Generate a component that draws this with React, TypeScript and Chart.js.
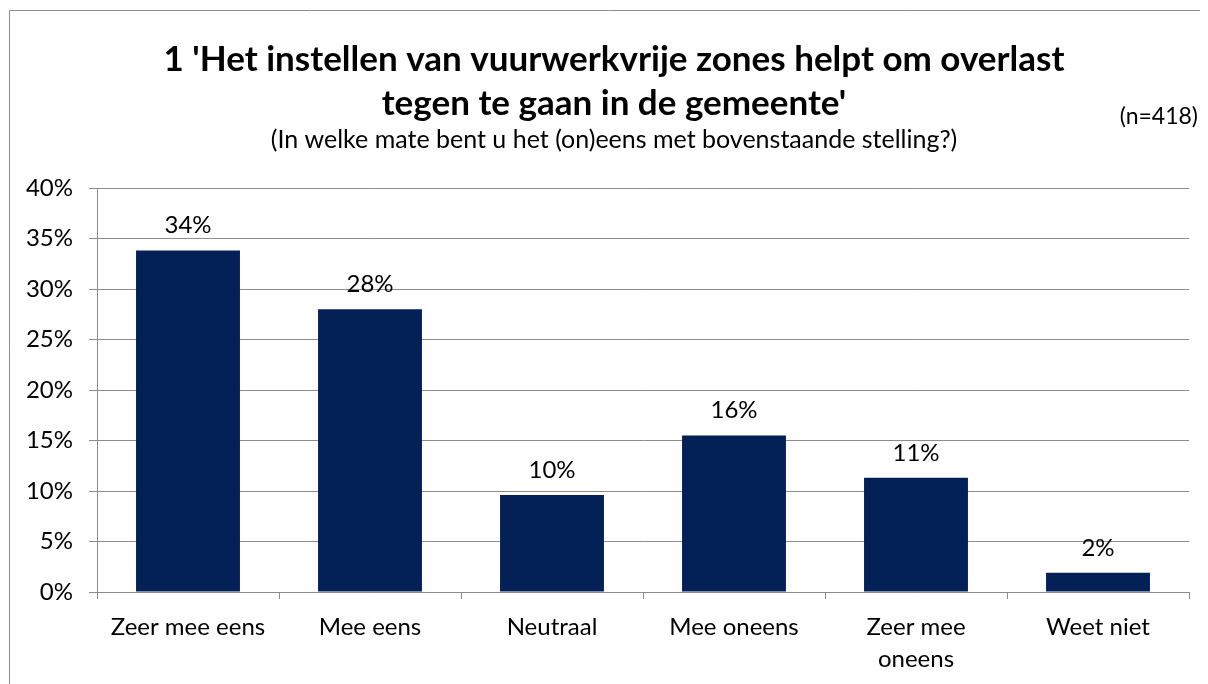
import React, { useEffect, useRef } from "react";
import { Chart, registerables } from "chart.js";

Chart.register(...registerables);

const categories: (string | string[])[] = [
  "Zeer mee eens",
  "Mee eens",
  "Neutraal",
  "Mee oneens",
  ["Zeer mee", "oneens"],
  "Weet niet",
];
const values: number[] = [33.8, 28.0, 9.6, 15.5, 11.3, 1.9];
const valueLabels: string[] = ["34%", "28%", "10%", "16%", "11%", "2%"];
const titleLines: string[] = [
  "1 'Het instellen van vuurwerkvrije zones helpt om overlast",
  "tegen te gaan in de gemeente'",
];
const subtitleText = "(In welke mate bent u het (on)eens met bovenstaande stelling?)";
const sampleText = "(n=418)";

const FONT = "Lato, 'Open Sans', sans-serif";

export default function App() {
  const ref = useRef<HTMLCanvasElement | null>(null);
  useEffect(() => {
    if (!ref.current) return;
    const decor = {
      id: "decor",
      afterDraw(chart: any) {
        const ctx = chart.ctx;
        ctx.save();
        // outer border
        ctx.strokeStyle = "#8c8c8c";
        ctx.lineWidth = 1;
        ctx.beginPath();
        ctx.moveTo(1.5, 700);
        ctx.lineTo(1.5, 2.5);
        ctx.lineTo(1300, 2.5);
        ctx.stroke();
        // titles
        ctx.fillStyle = "#000";
        ctx.textAlign = "center";
        ctx.textBaseline = "middle";
        ctx.font = `bold 35px ${FONT}`;
        ctx.fillText(titleLines[0], 606, 52);
        ctx.fillText(titleLines[1], 606, 96);
        ctx.font = `25px ${FONT}`;
        ctx.fillText(subtitleText, 606, 132);
        ctx.font = `23px ${FONT}`;
        ctx.textAlign = "right";
        ctx.fillText(sampleText, 1190, 109);
        // data labels
        const meta = chart.getDatasetMeta(0);
        ctx.textAlign = "center";
        ctx.font = `24px ${FONT}`;
        meta.data.forEach((bar: any, i: number) => {
          ctx.fillText(valueLabels[i], bar.x, bar.y - 25);
        });
        ctx.restore();
      },
    };
    const chart = new Chart(ref.current, {
      type: "bar",
      data: {
        labels: categories,
        datasets: [
          {
            data: values,
            backgroundColor: "#042157",
            borderWidth: 0,
            categoryPercentage: 1,
            barPercentage: 0.571,
          },
        ],
      },
      options: {
        animation: false,
        responsive: false,
        maintainAspectRatio: false,
        layout: { padding: { left: 0, right: 19, top: 180, bottom: 0 } },
        plugins: {
          legend: { display: false },
          tooltip: { enabled: false },
          title: { display: false },
        },
        scales: {
          x: {
            afterFit: (s: any) => {
              s.height = 92;
            },
            border: { color: "#8c8c8c", width: 1 },
            grid: {
              offset: true,
              drawOnChartArea: false,
              drawTicks: true,
              tickLength: 7,
              color: "#8c8c8c",
            },
            ticks: {
              color: "#000",
              font: { family: FONT, size: 24, lineHeight: 1.3 },
              padding: 13,
              maxRotation: 0,
              autoSkip: false,
            },
          },
          y: {
            min: 0,
            max: 40,
            afterFit: (s: any) => {
              s.width = 89;
            },
            border: { color: "#8c8c8c", width: 1 },
            grid: {
              color: "#8c8c8c",
              tickLength: 8,
            },
            ticks: {
              stepSize: 5,
              color: "#000",
              font: { family: FONT, size: 24 },
              padding: 16,
              callback: (v: any) => `${v}%`,
            },
          },
        },
      },
      plugins: [decor],
    });
    return () => chart.destroy();
  }, []);
  return (
    <div style={{ width: 1200, height: 676 }}>
      <canvas ref={ref} width={1200} height={676} style={{ display: "block" }} />
    </div>
  );
}
